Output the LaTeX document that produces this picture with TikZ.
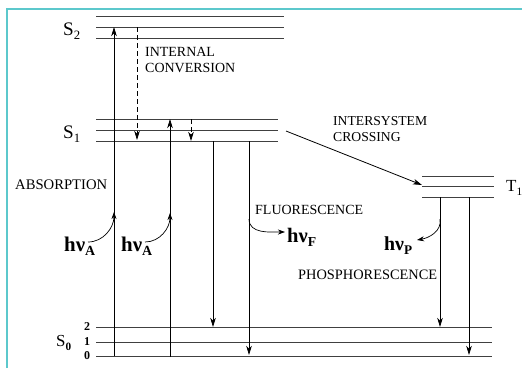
\documentclass[tikz,border=0pt]{standalone}
\usepackage{fontspec}
\usepackage{graphicx}
\setmainfont{Liberation Serif}
\usetikzlibrary{arrows.meta}
\definecolor{framecol}{RGB}{92,200,204}
\newcommand\lowsub[1]{\raisebox{-0.45ex}{\fontsize{10}{10}\selectfont #1}}
\newcommand\fitw[2]{\resizebox{#1}{!}{#2}}
\begin{document}
\begin{tikzpicture}[x=1pt,y=-1pt,
 lvl/.style={line width=0.9pt, black!75},
 tr/.style={line width=0.8pt, -{Stealth[length=9pt,width=5.5pt,inset=2.5pt]}},
 dsh/.style={tr, dash pattern=on 5pt off 3pt},
 cv/.style={line width=0.7pt, -{Stealth[length=7pt,width=5pt,inset=2pt]}},
 lab/.style={font=\fontsize{14}{17}\selectfont, inner sep=0pt, anchor=west},
 hv/.style={font=\fontsize{15}{15}\selectfont\bfseries, inner sep=0pt},
 st/.style={font=\fontsize{15}{15}\selectfont, inner sep=0pt},
 num/.style={font=\fontsize{12}{12}\selectfont\bfseries, inner sep=0pt},
]
\useasboundingbox (0,0) rectangle (522,368);
\draw[framecol, line width=1.5pt] (7,368) -- (7,9) -- (522,9);

% energy levels
\draw[lvl] (96,16) -- (284,16);
\draw[lvl] (96,27) -- (284,27);
\draw[lvl] (96,38) -- (284,38);
\draw[lvl] (96,119) -- (278,119);
\draw[lvl] (96,130) -- (278,130);
\draw[lvl] (96,141) -- (278,141);
\draw[lvl] (422,176) -- (494,176);
\draw[lvl] (422,186) -- (494,186);
\draw[lvl] (422,197) -- (494,197);
\draw[lvl] (96,327) -- (492,327);
\draw[lvl] (96,342) -- (492,342);
\draw[lvl] (96,356) -- (492,356);

% coordinates
\coordinate (a1b) at (114,356); \coordinate (a1t) at (114,27);
\coordinate (a2b) at (170,357); \coordinate (a2t) at (170,119);
\coordinate (ict) at (137,27);  \coordinate (icb) at (137,140);
\coordinate (vrt) at (191,119); \coordinate (vrb) at (191,141);
\coordinate (f1t) at (213,141); \coordinate (f1b) at (213,327);
\coordinate (f2t) at (249,141); \coordinate (f2b) at (249,355);
\coordinate (p1t) at (440,197); \coordinate (p1b) at (440,327);
\coordinate (p2t) at (469,197); \coordinate (p2b) at (469,355);
\coordinate (isa) at (286,131); \coordinate (isb) at (422,185);
\coordinate (a1m) at (114,212); \coordinate (a2m) at (170,213);
\coordinate (c1s) at (88,242);  \coordinate (c2s) at (145,242);
\coordinate (cfs) at (249,219); \coordinate (cfe) at (285,232);
\coordinate (cps) at (440,219); \coordinate (cpe) at (417,240);

% transitions
\draw[tr] (a1b) -- (a1t);
\draw[tr] (a2b) -- (a2t);
\draw[dsh] (ict) -- (icb);
\draw[dsh] (vrt) -- (vrb);
\draw[tr] (f1t) -- (f1b);
\draw[tr] (f2t) -- (f2b);
\draw[tr] (p1t) -- (p1b);
\draw[tr] (p2t) -- (p2b);
\draw[tr] (isa) -- (isb);

% photon curves
\draw[cv] (c1s) to[out=0,in=-90] (a1m);
\draw[cv] (c2s) to[out=0,in=-90] (a2m);
\draw[cv] (cfs) to[out=-90,in=180] (cfe);
\draw[cv] (cps) to[out=-80,in=10] (cpe);

% labels
\node[st, anchor=west] (S2) at (63,31) {\fitw{17pt}{S\lowsub{2}}};
\node[st, anchor=west] (S1) at (63,134) {\fitw{17pt}{S\lowsub{1}}};
\node[st, anchor=west] (S0) at (56,343) {\fitw{15pt}{S\lowsub{\bfseries 0}}};
\node[st, anchor=west] (T1) at (506,188) {\fitw{16pt}{T\lowsub{1}}};
\node[num] (n2) at (87,327) {2};
\node[num] (n1) at (87,342) {1};
\node[num] (n0) at (87,356) {0};

\node[lab] (ic) at (145,61) {\fitw{90pt}{\begin{tabular}{@{}l@{}}INTERNAL\\[-1pt]CONVERSION\end{tabular}}};
\node[lab] (isc) at (333,130) {\fitw{94pt}{\begin{tabular}{@{}l@{}}INTERSYSTEM\\[-1pt]CROSSING\end{tabular}}};
\node[lab] (abs) at (15,185) {\fitw{92pt}{ABSORPTION}};
\node[lab] (flu) at (255,210) {\fitw{108pt}{FLUORESCENCE}};
\node[lab] (pho) at (298,275) {\fitw{139pt}{PHOSPHORESCENCE}};

\node[hv, anchor=west] (hA1) at (64,246) {\fitw{31pt}{hν\lowsub{A}}};
\node[hv, anchor=west] (hA2) at (121,246) {\fitw{31pt}{hν\lowsub{A}}};
\node[hv, anchor=west] (hF) at (287,237) {\fitw{29pt}{hν\lowsub{F}}};
\node[hv, anchor=west] (hP) at (384,246) {\fitw{28pt}{hν\lowsub{P}}};
\end{tikzpicture}
\end{document}
